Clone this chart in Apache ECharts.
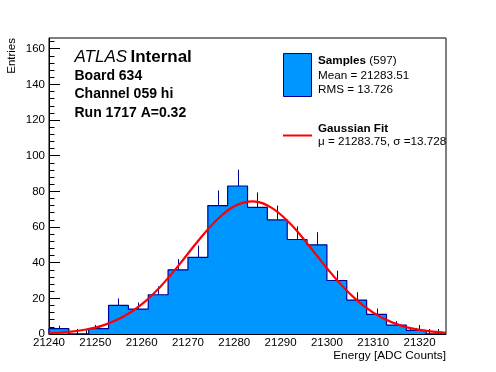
<!DOCTYPE html>
<html><head><meta charset="utf-8">
<script src="https://cdn.jsdelivr.net/npm/echarts@6/dist/echarts.min.js"></script>
<style>html,body{margin:0;padding:0;background:#fff}#c{width:496px;height:372px}</style>
</head><body><div id="c"></div>
<script>
// ---- data ----
const binEdges = [21240, 21244.29, 21248.57, 21252.86, 21257.14, 21261.43, 21265.71, 21270,
  21274.29, 21278.57, 21282.86, 21287.14, 21291.43, 21295.71, 21300, 21304.29,
  21308.57, 21312.86, 21317.14, 21321.43, 21325.71];
const counts = [3, 0, 3, 16, 14, 22, 36, 43, 72, 83, 71, 64, 53, 50, 30, 19, 11, 5, 2, 0];
const errors = [1.7, 0, 1.7, 4, 3.7, 4.7, 6, 6.6, 8.5, 9.1, 8.4, 8, 7.3, 7.1, 5.5, 4.4, 3.3, 2.2, 1.4, 0];
const fitX = [21240, 21244, 21248, 21252, 21256, 21260, 21264, 21268, 21272, 21276, 21280, 21284,
  21288, 21292, 21296, 21300, 21304, 21308, 21312, 21316, 21320, 21324, 21325.7];
const fitY = [0.46, 1.12, 2.5, 5.13, 9.64, 16.65, 26.42, 38.5, 51.55, 63.4, 71.63, 74.34,
  70.87, 62.07, 49.93, 36.9, 25.05, 15.62, 8.95, 4.71, 2.28, 1.01, 0.7];
const xMajorTicks = [21240, 21250, 21260, 21270, 21280, 21290, 21300, 21310, 21320];
const yMajorTicks = [0, 20, 40, 60, 80, 100, 120, 140, 160];
const xMinorTicks = [];
for (let v = 21242; v < 21326; v += 2) if (v % 10 !== 0) xMinorTicks.push(v);
const yMinorTicks = [];
for (let v = 4; v < 166; v += 4) if (v % 20 !== 0) yMinorTicks.push(v);

const X_MIN = 21240, X_MAX = 21325.71, Y_MAX = 166;
const FILL = '#0096ff', NAVY = '#000099', FONT = 'Liberation Sans, Arial, Helvetica, sans-serif';

const errData = counts.map((c, i) => [(binEdges[i] + binEdges[i + 1]) / 2, c, errors[i]]);
const outline = [[binEdges[0], 0]];
counts.forEach((c, i) => { outline.push([binEdges[i], c]); outline.push([binEdges[i + 1], c]); });
outline.push([binEdges[counts.length], 0]);
const fitData = fitX.map((x, i) => [x, fitY[i]]);

const chart = echarts.init(document.getElementById('c'), null, {renderer: 'canvas'});
const lab = {color: '#000', fontSize: 11.5, fontFamily: FONT};
chart.setOption({
  animation: false,
  backgroundColor: '#fff',
  grid: {left: 49, right: 50, top: 38, bottom: 38, show: true, borderColor: '#000', borderWidth: 1, backgroundColor: 'transparent'},
  xAxis: [
    {type: 'value', min: X_MIN, max: X_MAX, splitLine: {show: false},
     axisLine: {show: true, onZero: false, lineStyle: {color: '#000', width: 1}},
     axisTick: {show: true, inside: true, length: 9, customValues: xMajorTicks, lineStyle: {color: '#000'}},
     axisLabel: Object.assign({margin: 3, customValues: xMajorTicks, formatter: v => String(v)}, lab)},
    {type: 'value', min: X_MIN, max: X_MAX, position: 'bottom', splitLine: {show: false},
     axisLine: {show: false}, axisLabel: {show: false},
     axisTick: {show: true, inside: true, length: 5, customValues: xMinorTicks, lineStyle: {color: '#000'}}}
  ],
  yAxis: [
    {type: 'value', min: 0, max: Y_MAX, splitLine: {show: false},
     axisLine: {show: true, onZero: false, lineStyle: {color: '#000', width: 1}},
     axisTick: {show: true, inside: true, length: 11, customValues: yMajorTicks, lineStyle: {color: '#000'}},
     axisLabel: Object.assign({margin: 4, customValues: yMajorTicks}, lab)},
    {type: 'value', min: 0, max: Y_MAX, position: 'left', splitLine: {show: false},
     axisLine: {show: false}, axisLabel: {show: false},
     axisTick: {show: true, inside: true, length: 5.5, customValues: yMinorTicks, lineStyle: {color: '#000'}}}
  ],
  series: [
    {type: 'line', xAxisIndex: 0, yAxisIndex: 0, data: outline, showSymbol: false, symbol: 'none', z: 2, silent: true,
     areaStyle: {color: FILL, opacity: 1, origin: 'start'},
     lineStyle: {color: NAVY, width: 1.2}},
    {type: 'custom', xAxisIndex: 0, yAxisIndex: 0, data: errData, encode: {x: 0, y: 1}, z: 3, silent: true,
     renderItem: function (params, api) {
       const xc = api.value(0), n = api.value(1), e = api.value(2);
       if (!(e > 0)) return null;
       const a = api.coord([xc, n]), b = api.coord([xc, n + e]);
       const px = Math.round(a[0]) + 0.5;
       return {type: 'line', shape: {x1: px, y1: a[1], x2: px, y2: b[1]}, style: {stroke: NAVY, lineWidth: 1}};
     }},
    {type: 'line', xAxisIndex: 0, yAxisIndex: 0, data: fitData, smooth: 0.4, showSymbol: false, symbol: 'none', z: 4, silent: true,
     lineStyle: {color: '#ff0000', width: 2.2}}
  ],
  graphic: [
    {type: 'text', x: 12, y: 38, rotation: Math.PI / 2, style: {text: 'Entries', fill: '#000', font: '11.5px ' + FONT, align: 'right', verticalAlign: 'middle'}},
    {type: 'text', x: 446, y: 356, style: {text: 'Energy [ADC Counts]', fill: '#000', font: '11.8px ' + FONT, align: 'right', verticalAlign: 'middle'}},
    {type: 'text', x: 74.5, y: 57.5, style: {text: '{i|ATLAS} {b|Internal}', verticalAlign: 'middle', align: 'left',
      rich: {i: {fontStyle: 'italic', fontSize: 17, fontFamily: FONT, fill: '#000'}, b: {fontWeight: 'bold', fontSize: 17, fontFamily: FONT, fill: '#000'}}}},
    {type: 'text', x: 74.5, y: 76, style: {text: 'Board 634', fill: '#000', font: 'bold 14px ' + FONT, verticalAlign: 'middle'}},
    {type: 'text', x: 74.5, y: 94.5, style: {text: 'Channel 059 hi', fill: '#000', font: 'bold 14px ' + FONT, verticalAlign: 'middle'}},
    {type: 'text', x: 74.5, y: 113, style: {text: 'Run 1717 A=0.32', fill: '#000', font: 'bold 14px ' + FONT, verticalAlign: 'middle'}},
    {type: 'rect', shape: {x: 283.5, y: 53.5, width: 28, height: 43}, style: {fill: FILL, stroke: NAVY, lineWidth: 1}},
    {type: 'text', x: 318, y: 61, style: {text: '{b|Samples} (597)', verticalAlign: 'middle',
      rich: {b: {fontWeight: 'bold', fontSize: 11.7, fontFamily: FONT, fill: '#000'}}, font: '11.7px ' + FONT, fill: '#000'}},
    {type: 'text', x: 318, y: 76, style: {text: 'Mean = 21283.51', fill: '#000', font: '11.7px ' + FONT, verticalAlign: 'middle'}},
    {type: 'text', x: 318, y: 90, style: {text: 'RMS = 13.726', fill: '#000', font: '11.7px ' + FONT, verticalAlign: 'middle'}},
    {type: 'line', shape: {x1: 283, y1: 135.5, x2: 312, y2: 135.5}, style: {stroke: '#ff0000', lineWidth: 2}},
    {type: 'text', x: 318, y: 128.5, style: {text: 'Gaussian Fit', fill: '#000', font: 'bold 11.7px ' + FONT, verticalAlign: 'middle'}},
    {type: 'text', x: 318, y: 142, style: {text: 'μ = 21283.75, σ =13.728', fill: '#000', font: '11.7px ' + FONT, verticalAlign: 'middle'}}
  ]
});
</script></body></html>
